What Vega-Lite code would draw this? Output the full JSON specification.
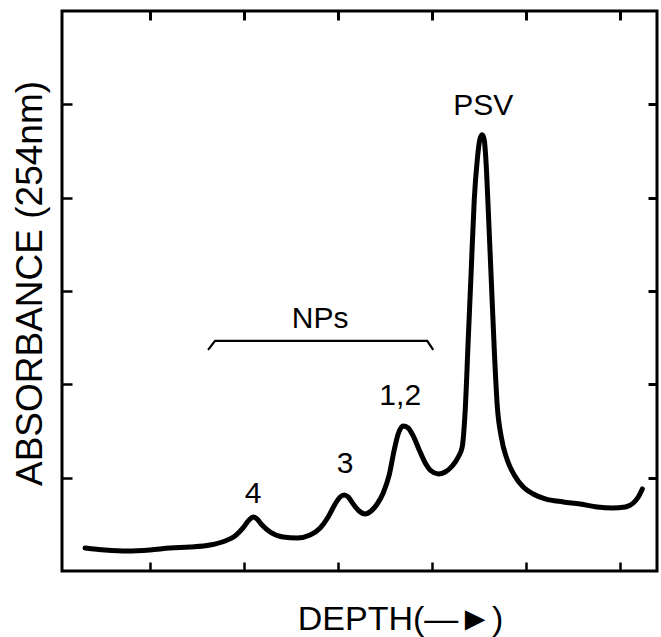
{
  "$schema": "https://vega.github.io/schema/vega-lite/v6.json",
  "width": 595,
  "height": 560,
  "autosize": "none",
  "padding": {"left": 62, "top": 11, "right": 4, "bottom": 66},
  "background": "white",
  "config": {
    "view": {"stroke": "black", "strokeWidth": 3},
    "font": "Liberation Sans",
    "axis": {"domain": false, "grid": false, "labels": false, "tickColor": "black", "tickWidth": 2.5}
  },
  "datasets": {
    "curve": [
      {"depth": 0.309, "abs": 0.246}, {"depth": 0.521, "abs": 0.225}, {"depth": 0.755, "abs": 0.214},
      {"depth": 1.0, "abs": 0.225}, {"depth": 1.213, "abs": 0.246}, {"depth": 1.426, "abs": 0.257},
      {"depth": 1.638, "abs": 0.279}, {"depth": 1.798, "abs": 0.322}, {"depth": 1.904, "abs": 0.375},
      {"depth": 1.989, "abs": 0.461}, {"depth": 2.053, "abs": 0.547}, {"depth": 2.096, "abs": 0.579},
      {"depth": 2.138, "abs": 0.557}, {"depth": 2.191, "abs": 0.493}, {"depth": 2.277, "abs": 0.418},
      {"depth": 2.415, "abs": 0.364}, {"depth": 2.564, "abs": 0.354}, {"depth": 2.702, "abs": 0.386},
      {"depth": 2.809, "abs": 0.461}, {"depth": 2.894, "abs": 0.579}, {"depth": 2.968, "abs": 0.718},
      {"depth": 3.021, "abs": 0.793}, {"depth": 3.064, "abs": 0.815}, {"depth": 3.106, "abs": 0.793},
      {"depth": 3.16, "abs": 0.718}, {"depth": 3.223, "abs": 0.643}, {"depth": 3.287, "abs": 0.611},
      {"depth": 3.351, "abs": 0.643}, {"depth": 3.415, "abs": 0.718}, {"depth": 3.479, "abs": 0.836},
      {"depth": 3.543, "abs": 1.029}, {"depth": 3.596, "abs": 1.297}, {"depth": 3.638, "abs": 1.468},
      {"depth": 3.691, "abs": 1.554}, {"depth": 3.745, "abs": 1.533}, {"depth": 3.798, "abs": 1.447},
      {"depth": 3.862, "abs": 1.297}, {"depth": 3.926, "abs": 1.158}, {"depth": 3.989, "abs": 1.072},
      {"depth": 4.064, "abs": 1.04}, {"depth": 4.138, "abs": 1.061}, {"depth": 4.213, "abs": 1.125},
      {"depth": 4.277, "abs": 1.222}, {"depth": 4.319, "abs": 1.329}, {"depth": 4.351, "abs": 1.726},
      {"depth": 4.383, "abs": 2.476}, {"depth": 4.415, "abs": 3.226}, {"depth": 4.447, "abs": 3.976},
      {"depth": 4.479, "abs": 4.405}, {"depth": 4.511, "abs": 4.641}, {"depth": 4.532, "abs": 4.673},
      {"depth": 4.553, "abs": 4.62}, {"depth": 4.574, "abs": 4.352}, {"depth": 4.596, "abs": 3.869},
      {"depth": 4.628, "abs": 3.119}, {"depth": 4.66, "abs": 2.369}, {"depth": 4.691, "abs": 1.779},
      {"depth": 4.734, "abs": 1.436}, {"depth": 4.798, "abs": 1.19}, {"depth": 4.872, "abs": 1.029},
      {"depth": 4.968, "abs": 0.9}, {"depth": 5.074, "abs": 0.825}, {"depth": 5.202, "abs": 0.772},
      {"depth": 5.394, "abs": 0.74}, {"depth": 5.574, "abs": 0.718}, {"depth": 5.755, "abs": 0.686},
      {"depth": 5.915, "abs": 0.675}, {"depth": 6.053, "abs": 0.686}, {"depth": 6.138, "abs": 0.729},
      {"depth": 6.191, "abs": 0.793}, {"depth": 6.234, "abs": 0.879}
    ],
    "bracket": [
      {"depth": 1.617, "abs": 2.369, "order": 1},
      {"depth": 1.691, "abs": 2.465, "order": 2},
      {"depth": 3.947, "abs": 2.465, "order": 3},
      {"depth": 4.011, "abs": 2.369, "order": 4}
    ],
    "labels": [
      {"depth": 4.543, "abs": 4.887, "label": "PSV"},
      {"depth": 2.809, "abs": 2.605, "label": "NPs"},
      {"depth": 3.66, "abs": 1.779, "label": "1,2"},
      {"depth": 3.074, "abs": 1.05, "label": "3"},
      {"depth": 2.096, "abs": 0.729, "label": "4"}
    ]
  },
  "resolve": {"axis": {"x": "independent", "y": "independent"}},
  "layer": [
    {
      "data": {"name": "curve"},
      "mark": {"type": "line", "color": "black", "strokeWidth": 5, "interpolate": "monotone", "strokeCap": "round", "strokeJoin": "round"},
      "encoding": {
        "x": {"field": "depth", "type": "quantitative",
              "scale": {"domain": [0.064, 6.39], "nice": false, "zero": false},
              "axis": {"orient": "bottom", "values": [1, 2, 3, 4, 5, 6], "tickSize": -9,
                       "title": "DEPTH(—►)", "titleFont": "Liberation Sans", "titleFontSize": 34, "titleFontWeight": "normal",
                       "titleX": 338, "titleY": 58, "titleBaseline": "alphabetic", "titleAlign": "center", "titleColor": "black"}},
        "y": {"field": "abs", "type": "quantitative",
              "scale": {"domain": [0, 6], "nice": false, "zero": false},
              "axis": {"orient": "left", "values": [1, 2, 3, 4, 5], "tickSize": -10,
                       "title": "ABSORBANCE (254nm)", "titleFont": "Liberation Sans", "titleFontSize": 37, "titleFontWeight": "normal",
                       "titleX": -21, "titleY": 272, "titleAngle": -90, "titleBaseline": "alphabetic", "titleAlign": "center", "titleColor": "black"}}
      }
    },
    {
      "data": {"name": "bracket"},
      "mark": {"type": "line", "color": "black", "strokeWidth": 2.2},
      "encoding": {
        "x": {"field": "depth", "type": "quantitative", "axis": null},
        "y": {"field": "abs", "type": "quantitative", "axis": null},
        "order": {"field": "order", "type": "quantitative"}
      }
    },
    {
      "data": {"name": "labels"},
      "mark": {"type": "text", "font": "Liberation Sans", "fontSize": 30, "color": "black", "baseline": "alphabetic", "align": "center"},
      "encoding": {
        "x": {"field": "depth", "type": "quantitative",
              "axis": {"orient": "top", "values": [1, 2, 3, 4, 5, 6], "tickSize": -9, "tickWidth": 3, "title": null}},
        "y": {"field": "abs", "type": "quantitative",
              "axis": {"orient": "right", "values": [1, 2, 3, 4, 5], "tickSize": -9, "tickWidth": 3, "title": null}},
        "text": {"field": "label"}
      }
    }
  ]
}
